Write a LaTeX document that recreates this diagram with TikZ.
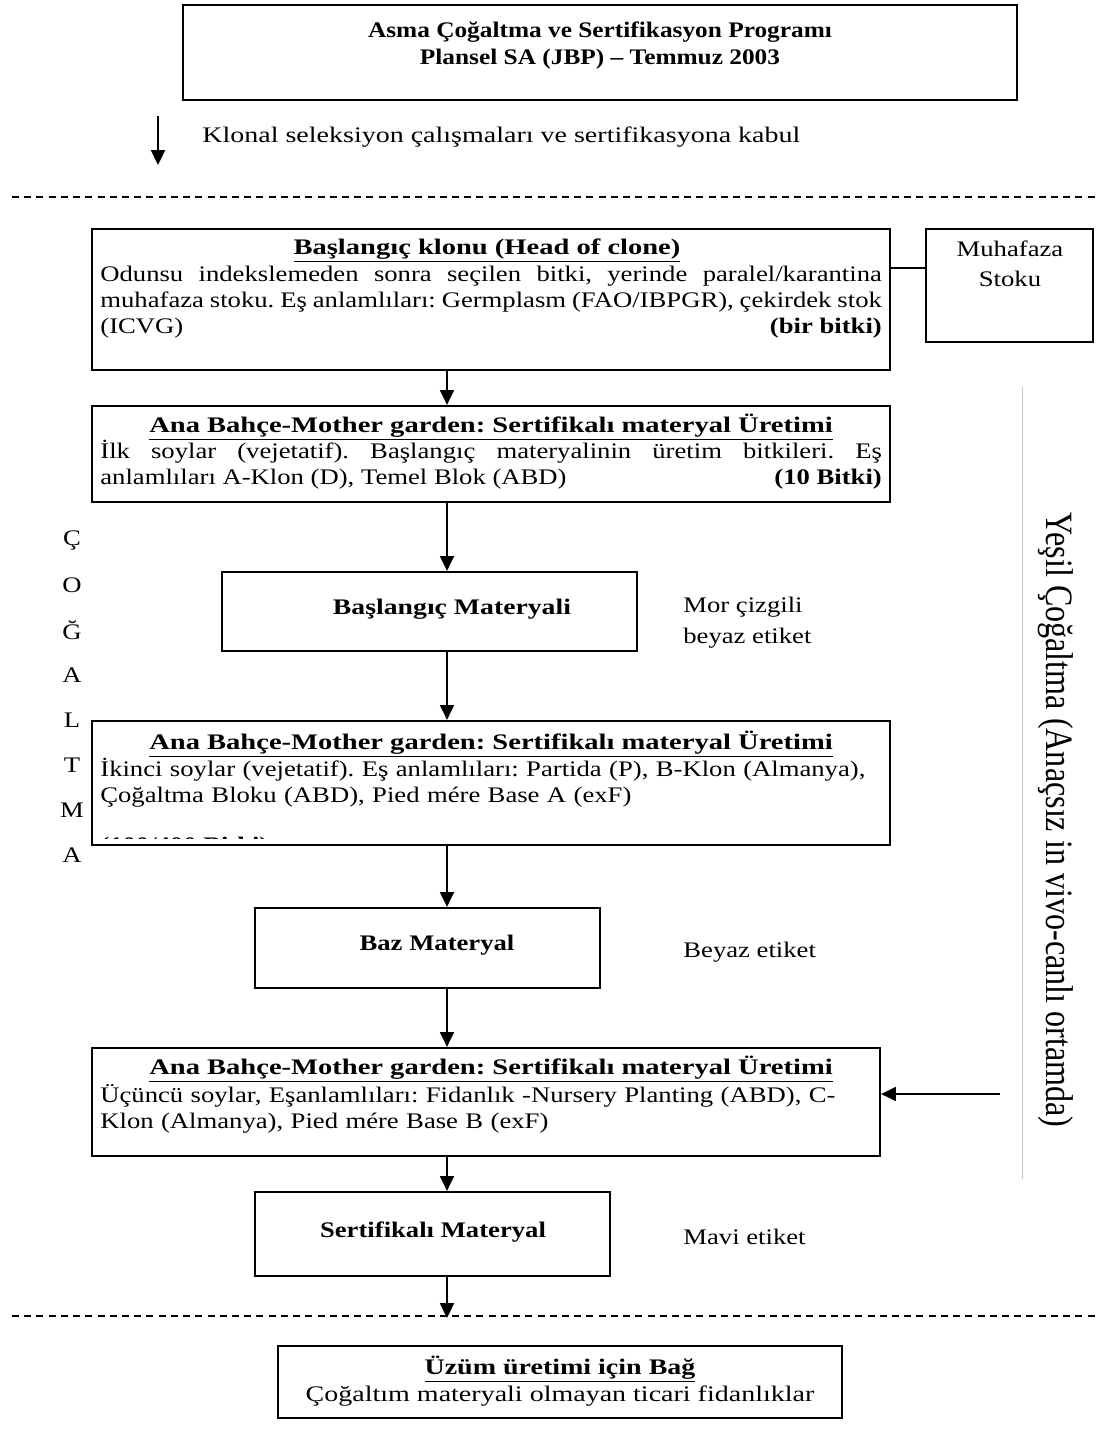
\documentclass[tikz,border=0pt]{standalone}
\usepackage{fontspec}
\setmainfont[FakeStretch=1.2]{Liberation Serif}
\usetikzlibrary{arrows.meta,calc,fit}
\frenchspacing
% underlined bold heading, set a little wider
\newcommand{\boxhead}[1]{\scalebox{1.07}[1]{\textbf{\underline{#1}}}}
\newcommand{\wider}[1]{\scalebox{1.05}[1]{#1}}
\begin{document}
\begin{tikzpicture}[x=0.54pt,y=-0.54pt,
  every node/.style={font=\fontsize{12}{14.04}\selectfont},
  box/.style={draw,line width=1.2pt,inner sep=0pt},
  flow/.style={-{Triangle[length=8pt,width=7.5pt]},line width=1.1pt},
  sep/.style={dash pattern=on 3.8pt off 2.8pt,line width=0.6pt},
  txt/.style={inner sep=0pt},
  body/.style={txt,text width=422pt,anchor=base west},
]
\useasboundingbox (0,0) rectangle (1099,1445);

% --- header ---
\node[box,fit={(183,5) (1017,100)}] (head) {};
\node[txt,anchor=base] (head1) at (600,37)
  {\scalebox{0.95}[1]{\textbf{Asma Çoğaltma ve Sertifikasyon Programı}}};
\node[txt,anchor=base] (head2) at (600,64)
  {\scalebox{0.95}[1]{\textbf{Plansel SA (JBP) – Temmuz 2003}}};

\coordinate (a0) at (158,116);
\coordinate (a1) at (158,165);
\draw[flow] (a0) -- (a1);
\node[txt,anchor=west] (klon) at (202,137)
  {\wider{Klonal seleksiyon çalışmaları ve sertifikasyona kabul}};

\coordinate (d1l) at (12,197);
\coordinate (d1r) at (1097,197);
\draw[sep] (d1l) -- (d1r);

% column of the vertical arrows
\coordinate (ax) at (447,0);

% --- head of clone ---
\node[box,fit={(92,229) (890,370)}] (b1) {};
\node[txt,anchor=base] (b1t) at (487,254)
  {\boxhead{Başlangıç klonu (Head of clone)}};
\node[body,align=justify] (b1x) at (100,281)
  {Odunsu indekslemeden sonra seçilen bitki, yerinde paralel/karantina\linebreak
   muhafaza stoku. Eş anlamlıları: Germplasm (FAO/IBPGR), çekirdek stok\linebreak
   (ICVG)\hfill\textbf{(bir bitki)}};

\node[box,fit={(926,229) (1093,342)}] (muh) {};
\node[txt,anchor=base] (muh1) at (1010,256) {Muhafaza};
\node[txt,anchor=base] (muh2) at (1010,286) {Stoku};
\coordinate (mh) at (905,268);
\draw[line width=1.2pt] (b1.east |- mh) -- (muh.west |- mh);

% --- first mother garden ---
\node[box,fit={(92,406) (890,502)}] (b2) {};
\node[txt,anchor=base] (b2t) at (491,432)
  {\boxhead{Ana Bahçe-Mother garden: Sertifikalı materyal Üretimi}};
\node[body,align=justify] (b2x) at (100,458)
  {İlk soylar (vejetatif). Başlangıç materyalinin üretim bitkileri. Eş\linebreak
   anlamlıları A-Klon (D), Temel Blok (ABD)\hfill\textbf{(10 Bitki)}};
\draw[flow] (b1.south -| ax) -- (b2.north -| ax);

% --- starting material ---
\node[box,fit={(222,572) (637,651)}] (b3) {};
\node[txt,anchor=base] (b3t) at (452,614) {\scalebox{1.04}[1]{\textbf{Başlangıç Materyali}}};
\node[txt,anchor=base west] (l3a) at (683,612) {Mor çizgili};
\node[txt,anchor=base west] (l3b) at (683,643) {beyaz etiket};
\draw[flow] (b2.south -| ax) -- (b3.north -| ax);

% --- second mother garden ---
\node[box,fit={(92,721) (890,845)}] (b4) {};
\node[txt,anchor=base] (b4t) at (491,749)
  {\boxhead{Ana Bahçe-Mother garden: Sertifikalı materyal Üretimi}};
\node[body,align=left] (b4x) at (100,776)
  {İkinci soylar (vejetatif). Eş anlamlıları: Partida (P), B-Klon (Almanya),\\
   Çoğaltma Bloku (ABD), Pied mére Base A (exF)};
\begin{scope}
  \clip (92,721) rectangle (890,838);
  \node[txt,anchor=base west] (b4c) at (100,852) {\textbf{(100/400 Bitki)}};
\end{scope}
\draw[flow] (b3.south -| ax) -- (b4.north -| ax);

% --- base material ---
\node[box,fit={(255,908) (600,988)}] (b5) {};
\node[txt,anchor=base] (b5t) at (437,950) {\textbf{Baz Materyal}};
\node[txt,anchor=base west] (l5) at (683,957) {Beyaz etiket};
\draw[flow] (b4.south -| ax) -- (b5.north -| ax);

% --- third mother garden ---
\node[box,fit={(92,1048) (880,1156)}] (b6) {};
\node[txt,anchor=base] (b6t) at (491,1074)
  {\boxhead{Ana Bahçe-Mother garden: Sertifikalı materyal Üretimi}};
\node[body,align=left] (b6x) at (100,1102)
  {Üçüncü soylar, Eşanlamlıları: Fidanlık -Nursery Planting (ABD), C-\\
   Klon (Almanya), Pied mére Base B (exF)};
\draw[flow] (b5.south -| ax) -- (b6.north -| ax);
\coordinate (g0) at (1000,1094);
\draw[flow] (g0) -- (b6.east |- g0);

% --- certified material ---
\node[box,fit={(255,1192) (610,1276)}] (b7) {};
\node[txt,anchor=base] (b7t) at (433,1237) {\textbf{Sertifikalı Materyal}};
\node[txt,anchor=base west] (l7) at (683,1244) {Mavi etiket};
\draw[flow] (b6.south -| ax) -- (b7.north -| ax);

\coordinate (d2l) at (12,1316);
\coordinate (d2r) at (1097,1316);
\draw[sep] (d2l) -- (d2r);
\coordinate (tip) at (447,1318);
\draw[flow] (b7.south -| ax) -- (tip);

% --- vineyard ---
\node[box,fit={(278,1346) (842,1418)}] (b8) {};
\node[txt,anchor=base] (b8t) at (560,1374) {\wider{\textbf{\underline{Üzüm üretimi için Bağ}}}};
\node[txt,anchor=base] (b8x) at (560,1401) {\wider{Çoğaltım materyali olmayan ticari fidanlıklar}};

% --- side captions ---
\foreach \l [count=\i] in {Ç,O,Ğ,A,L,T,M,A}
  \node[txt] (side\i) at (72,{495+45*\i}) {\l};

\coordinate (v0) at (1022,387);
\coordinate (v1) at (1022,1179);
\draw[line width=0.5pt,black!22] (v0) -- (v1);
\node[txt,rotate=-90] (vt) at (1056,820)
  {\resizebox{332pt}{14.5pt}{Yeşil Çoğaltma (Anaçsız in vivo-canlı ortamda)}};
\end{tikzpicture}
\end{document}
